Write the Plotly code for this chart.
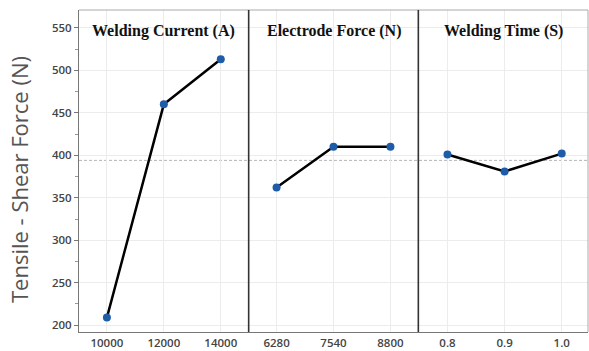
import plotly.graph_objects as go

# ---- data ----
panel_titles = ["Welding Current (A)", "Electrode Force (N)", "Welding Time (S)"]
current_levels = [10000, 12000, 14000]
current_means = [209, 460, 513]
force_levels = [6280, 7540, 8800]
force_means = [362, 410, 410]
time_levels = [0.8, 0.9, 1.0]
time_labels = ["0.8", "0.9", "1.0"]
time_means = [401, 381, 402]
grand_mean = 394
y_title = "Tensile - Shear Force (N)"
y_ticks = [200, 250, 300, 350, 400, 450, 500, 550]

W, H = 589, 351
ML, MR, MT, MB = 79, 1, 10, 19

fig = go.Figure()

panels = [
    (current_levels, current_means, [9020, 14980], current_levels, [str(v) for v in current_levels]),
    (force_levels, force_means, [5663, 9417], force_levels, [str(v) for v in force_levels]),
    (time_levels, time_means, [0.749, 1.046], time_levels, time_labels),
]

bounds = [0, 1/3, 2/3, 1]
tick_font = dict(family="Open Sans", size=11.5, color="#444", weight=600)

for i, (xs, ys, rng, tv, tt) in enumerate(panels):
    xa = "x" if i == 0 else f"x{i+1}"
    fig.add_trace(go.Scatter(
        x=xs, y=ys, xaxis=xa, yaxis="y", mode="lines+markers",
        line=dict(color="black", width=2.5),
        marker=dict(color="#1f5ca8", size=8),
        showlegend=False, hoverinfo="x+y"))
    key = "xaxis" if i == 0 else f"xaxis{i+1}"
    fig.layout[key] = dict(
        domain=[bounds[i], bounds[i+1]], range=rng, anchor="y",
        tickmode="array", tickvals=tv, ticktext=tt,
        showgrid=True, gridcolor="#ececec", gridwidth=1,
        zeroline=False, showline=True, linecolor="#777", linewidth=1,
        ticks="", tickfont=tick_font)
    # clear the title band of grid lines
    fig.add_shape(type="rect", xref="paper", yref="paper",
                  x0=bounds[i] + 0.003, x1=bounds[i+1] - 0.003,
                  y0=(332 - 48) / 322, y1=1,
                  fillcolor="white", line=dict(width=0), layer="between")
    fig.add_annotation(
        x=(bounds[i] + bounds[i+1]) / 2, y=(332 - 31) / 322,
        xref="paper", yref="paper", text=f"<b>{panel_titles[i]}</b>",
        showarrow=False, font=dict(family="Liberation Serif", size=16, color="#111"),
        xanchor="center", yanchor="middle")

# mean reference line across all panels
fig.add_shape(type="line", xref="paper", yref="y", x0=0, x1=1,
              y0=grand_mean, y1=grand_mean,
              line=dict(color="#b5b5b5", width=1, dash="3px,2px"), layer="between")

# frame and dividers
fig.add_shape(type="line", xref="paper", yref="paper", x0=0, x1=1, y0=1, y1=1,
              line=dict(color="#aaaaaa", width=1))
fig.add_shape(type="line", xref="paper", yref="paper", x0=1, x1=1, y0=0, y1=1,
              line=dict(color="#aaaaaa", width=1))
for b in bounds[1:3]:
    fig.add_shape(type="line", xref="paper", yref="paper", x0=b, x1=b, y0=0, y1=1,
                  line=dict(color="#333333", width=1.6))

fig.update_layout(
    width=W, height=H,
    margin=dict(l=ML, r=MR, t=MT, b=MB),
    paper_bgcolor="white", plot_bgcolor="white",
    yaxis=dict(range=[192, 571], tickvals=y_ticks, showgrid=True,
               gridcolor="#ececec", zeroline=False, showline=True,
               linecolor="#777", linewidth=1, ticks="outside", ticklen=4,
               tickcolor="#777", tickfont=tick_font,
               minor=dict(ticks="outside", dtick=25, ticklen=3, tickcolor="#999", showgrid=False)),
)

fig.add_annotation(x=(19 - ML) / (W - ML - MR), y=(332 - 180) / 322,
                   xref="paper", yref="paper", text=y_title, textangle=-90,
                   showarrow=False, font=dict(family="Open Sans", size=22, color="#555"),
                   xanchor="center", yanchor="middle")

fig.write_html("out.html")
